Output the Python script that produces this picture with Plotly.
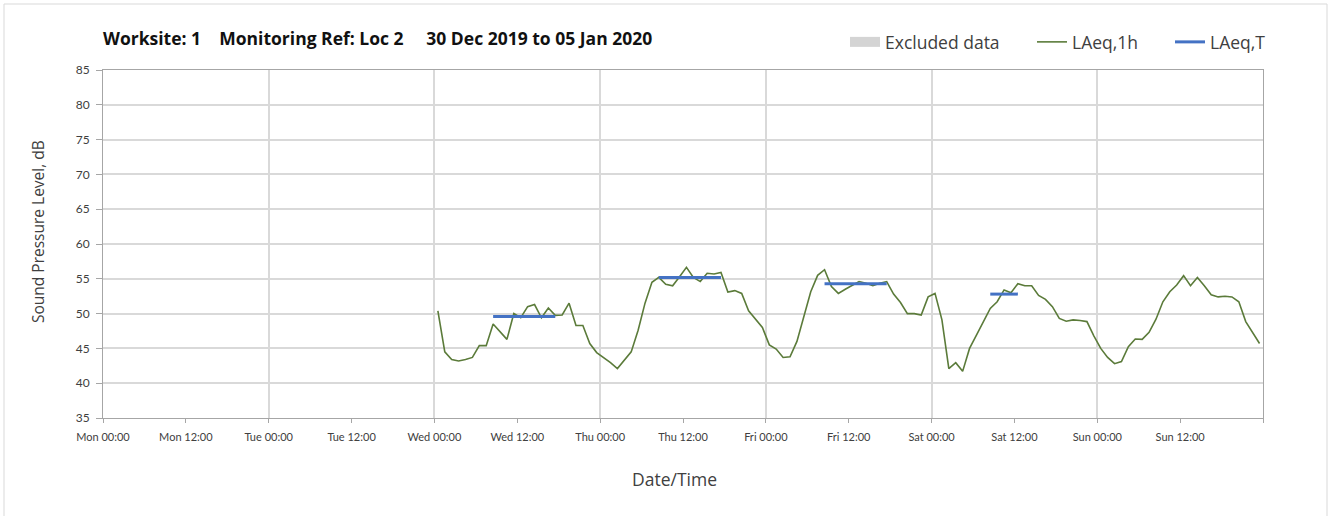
import pandas as pd
import plotly.graph_objects as go

# ---------------- data ----------------
first_hour = "2020-01-01 00:30"   # hourly LAeq values, plotted at mid-hour
laeq_1h = [
    # Wed 01 Jan
    50.4, 44.5, 43.4, 43.2, 43.4, 43.7, 45.4, 45.4, 48.5, 47.4, 46.3, 50.0,
    49.4, 51.0, 51.3, 49.4, 50.8, 49.75, 49.8, 51.5, 48.3, 48.3, 45.7, 44.4,
    # Thu 02 Jan
    43.7, 42.95, 42.1, 43.3, 44.5, 47.6, 51.5, 54.5, 55.2, 54.2, 54.0, 55.3,
    56.65, 55.2, 54.6, 55.8, 55.7, 55.9, 53.1, 53.3, 52.9, 50.4, 49.2, 48.0,
    # Fri 03 Jan
    45.5, 44.9, 43.7, 43.8, 46.0, 49.6, 53.15, 55.5, 56.3, 53.9, 52.9, 53.5,
    54.0, 54.6, 54.35, 54.0, 54.35, 54.6, 52.8, 51.6, 50.0, 50.0, 49.8, 52.4,
    # Sat 04 Jan
    52.9, 49.1, 42.1, 42.95, 41.7, 45.0, 46.9, 48.8, 50.75, 51.7, 53.4, 53.0,
    54.3, 54.0, 54.0, 52.6, 52.05, 51.0, 49.3, 48.9, 49.1, 49.0, 48.85, 46.8,
    # Sun 05 Jan
    45.0, 43.7, 42.8, 43.1, 45.25, 46.35, 46.3, 47.3, 49.2, 51.7, 53.15, 54.1,
    55.45, 54.0, 55.2, 54.0, 52.7, 52.4, 52.5, 52.4, 51.7, 48.85, 47.2, 45.7,
]

period_start = ["2020-01-01 08:30", "2020-01-02 08:30", "2020-01-03 08:30", "2020-01-04 08:30"]
period_end = ["2020-01-01 17:30", "2020-01-02 17:30", "2020-01-03 17:30", "2020-01-04 12:30"]
period_value = [49.6, 55.2, 54.3, 52.8]

axis_start = "2019-12-30 00:00"
axis_end = "2020-01-06 00:00"
tick_labels = ["Mon 00:00", "Mon 12:00", "Tue 00:00", "Tue 12:00", "Wed 00:00",
               "Wed 12:00", "Thu 00:00", "Thu 12:00", "Fri 00:00", "Fri 12:00",
               "Sat 00:00", "Sat 12:00", "Sun 00:00", "Sun 12:00", ""]
y_ticks = [35, 40, 45, 50, 55, 60, 65, 70, 75, 80, 85]

title_text = ("Worksite: 1\u00a0\u00a0\u00a0\u00a0Monitoring Ref: Loc 2"
              "\u00a0\u00a0\u00a0\u00a0\u00a030 Dec 2019 to 05 Jan 2020")

# ---------------- build ----------------
hours = pd.date_range(first_hour, periods=len(laeq_1h), freq="h")
tick_times = pd.date_range(axis_start, axis_end, freq="12h")
day_times = pd.date_range(axis_start, axis_end, freq="24h")

px_, py_ = [], []
for s, e, v in zip(period_start, period_end, period_value):
    px_ += [pd.Timestamp(s), pd.Timestamp(e), None]
    py_ += [v, v, None]

FONT = "Open Sans"
TICKFONT = "Lato"
TXT = "#404040"
GRID = "#d9d9d9"
AXIS = "#a6a6a6"

W, H = 1333, 516
L, T = 103, 70
PW, PH = 1160, 348
R, B = W - L - PW, H - T - PH


def px2paper_x(sx):
    return (sx - L) / PW


def px2paper_y(sy):
    return (T + PH - sy) / PH


fig = go.Figure()
fig.add_trace(go.Scatter(x=[None], y=[None], mode="lines", name="Excluded data",
                         line=dict(color="#d4d4d4", width=10), legend="legend"))
fig.add_trace(go.Scatter(x=hours, y=laeq_1h, mode="lines", name="LAeq,1h",
                         line=dict(color="#5b7b3a", width=1.6), legend="legend2"))
fig.add_trace(go.Scatter(x=px_, y=py_, mode="lines", name="LAeq,T",
                         line=dict(color="#4472c4", width=3), connectgaps=False,
                         legend="legend3"))
# helper trace for the daily vertical grid axis
fig.add_trace(go.Scatter(x=[day_times[0], day_times[-1]], y=[None, None], xaxis="x2",
                         showlegend=False, hoverinfo="skip"))

leg_common = dict(orientation="h", xanchor="left", yanchor="middle",
                  y=px2paper_y(42), font=dict(family=FONT, size=17.5, color=TXT),
                  bgcolor="rgba(0,0,0,0)", itemwidth=30)

fig.update_layout(
    width=W, height=H,
    margin=dict(l=L, r=R, t=T, b=B),
    paper_bgcolor="white", plot_bgcolor="white",
    font=dict(family=FONT, color=TXT),
    title=dict(text="<b>" + title_text + "</b>", x=L / W, xanchor="left",
               y=1 - 39 / H, yanchor="middle",
               font=dict(family=FONT, size=17.5, color="#111111")),
    showlegend=True,
    legend=dict(leg_common, x=px2paper_x(845)),
    legend2=dict(leg_common, x=px2paper_x(1032)),
    legend3=dict(leg_common, x=px2paper_x(1170)),
    xaxis=dict(type="date", range=[axis_start, axis_end],
               tickvals=tick_times, ticktext=tick_labels,
               showgrid=False, ticks="outside", ticklen=4, tickcolor=AXIS,
               showline=True, linecolor=AXIS, linewidth=1, mirror=True,
               tickfont=dict(family=TICKFONT, size=11, color=TXT), zeroline=False,
               ticklabelstandoff=5),
    xaxis2=dict(type="date", range=[axis_start, axis_end], overlaying="x",
                tickvals=day_times, showticklabels=False, ticks="",
                showgrid=True, gridcolor=GRID, gridwidth=1.5, showline=False,
                zeroline=False),
    yaxis=dict(range=[35, 85], tickvals=y_ticks, showgrid=True, gridcolor=GRID,
               gridwidth=1.5, ticks="outside", ticklen=6, tickcolor=AXIS,
               showline=True, linecolor=AXIS, linewidth=1, mirror=True,
               tickfont=dict(family=TICKFONT, size=12, color=TXT), zeroline=False,
               ticklabelstandoff=4),
    annotations=[
        dict(text="Sound Pressure Level, dB", xref="paper", yref="paper",
             x=px2paper_x(38), y=px2paper_y(232), textangle=-90, showarrow=False,
             xanchor="center", yanchor="middle",
             font=dict(family=FONT, size=15.5, color=TXT)),
        dict(text="Date/Time", xref="paper", yref="paper",
             x=px2paper_x(674), y=px2paper_y(479), showarrow=False,
             xanchor="center", yanchor="middle",
             font=dict(family=FONT, size=17.5, color=TXT)),
    ],
    shapes=[dict(type="rect", xref="paper", yref="paper",
                 x0=px2paper_x(4), x1=px2paper_x(1327),
                 y0=px2paper_y(530), y1=px2paper_y(4),
                 line=dict(color="#d9d9d9", width=1), fillcolor="rgba(0,0,0,0)",
                 layer="below")],
)

# remove the default 8px page margin so the figure fills the window exactly
fig.write_html("out.html", config={"displayModeBar": False},
               post_script="document.body.style.margin='0';")
